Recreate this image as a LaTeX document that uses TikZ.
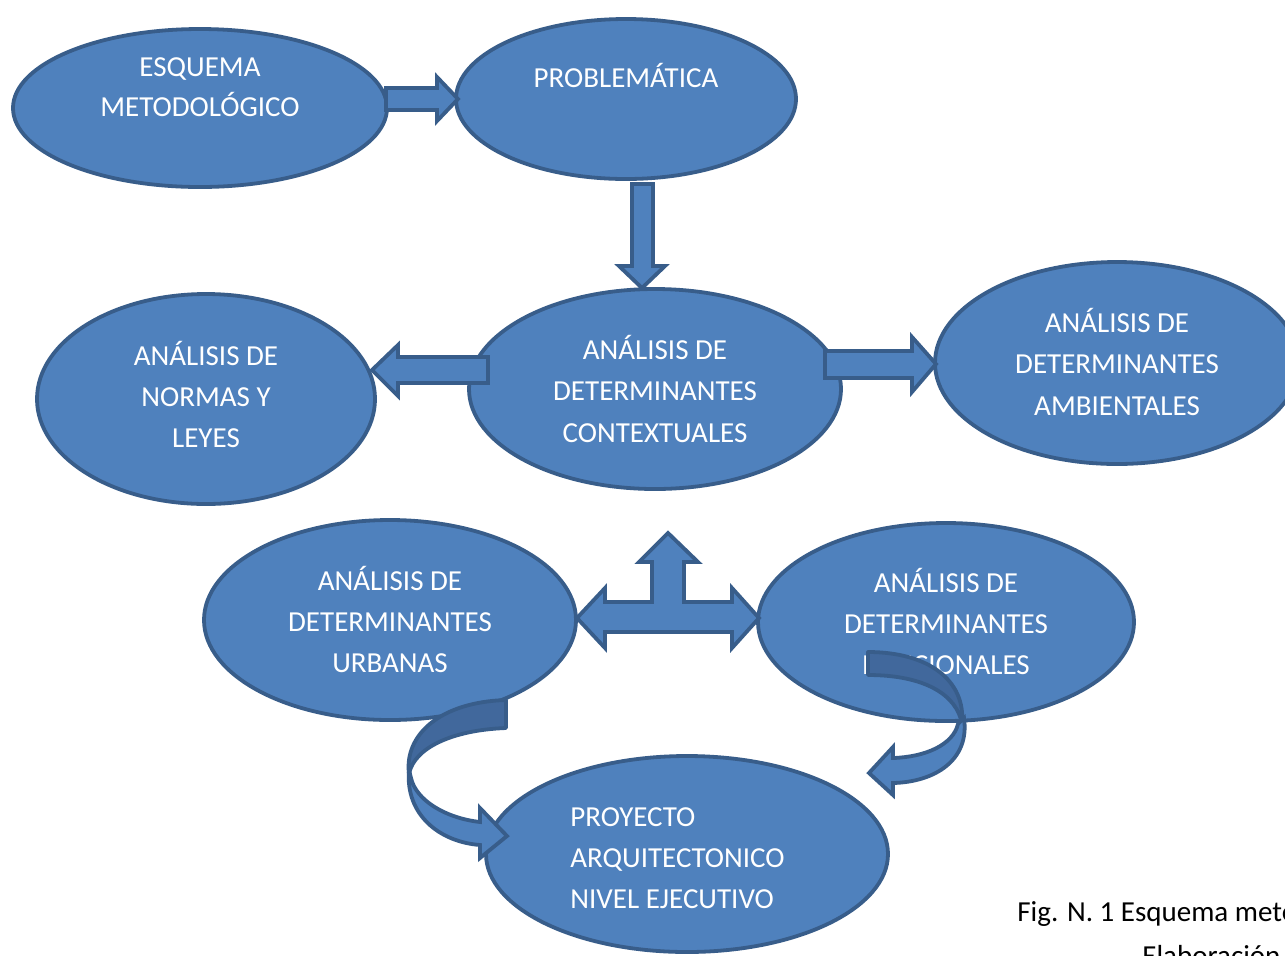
\documentclass[tikz,border=0pt]{standalone}
\usepackage{fontspec}
\setmainfont{Carlito}
\usetikzlibrary{shapes.geometric}
\definecolor{fillb}{HTML}{4F81BD}
\definecolor{lineb}{HTML}{385D8A}
\definecolor{darkb}{HTML}{41689C}
\begin{document}
\begin{tikzpicture}[x=0.5pt,y=-0.5pt,
 ell/.style={ellipse, draw=lineb, fill=fillb, line width=1.9pt, inner sep=0pt},
 blk/.style={draw=lineb, fill=fillb, line width=1.9pt, line join=miter},
 blkd/.style={draw=lineb, fill=darkb, line width=1.9pt, line join=round},
 txt/.style={text=white, font=\fontsize{14.5}{17}\selectfont, anchor=base, inner sep=0pt},
 txtl/.style={txt, anchor=base west},
 capt/.style={text=black, font=\fontsize{14.5}{17}\selectfont, anchor=base west, inner sep=0pt}]
\useasboundingbox[fill=white] (0,0) rectangle (1285,955);

% ellipses
\node[ell, minimum width=187pt, minimum height=79pt] (e1) at (200,108) {};
\node[ell, minimum width=170pt, minimum height=80pt] (e2) at (626,99) {};
\node[ell, minimum width=169pt, minimum height=105pt] (e3) at (206,399) {};
\node[ell, minimum width=186pt, minimum height=100pt] (e4) at (655,389) {};
\node[ell, minimum width=182pt, minimum height=101pt] (e5) at (1117,363) {};
\node[ell, minimum width=186pt, minimum height=100pt] (e6) at (390,620) {};
\node[ell, minimum width=188pt, minimum height=99pt] (e7) at (946,622) {};
\node[ell, minimum width=201pt, minimum height=98pt] (e8) at (687,854) {};

% texts
\node[txt] (t1a) at (200,76) {ESQUEMA};
\node[txt] (t1b) at (200,116) {METODOLÓGICO};
\node[txt] (t2a) at (626,87) {PROBLEMÁTICA};
\node[txt] (t3a) at (206,365) {ANÁLISIS DE};
\node[txt] (t3b) at (206,406) {NORMAS Y};
\node[txt] (t3c) at (206,447) {LEYES};
\node[txt] (t4a) at (655,359) {ANÁLISIS DE};
\node[txt] (t4b) at (655,400) {DETERMINANTES};
\node[txt] (t4c) at (655,442) {CONTEXTUALES};
\node[txt] (t5a) at (1117,332) {ANÁLISIS DE};
\node[txt] (t5b) at (1117,373) {DETERMINANTES};
\node[txt] (t5c) at (1117,415) {AMBIENTALES};
\node[txt] (t6a) at (390,590) {ANÁLISIS DE};
\node[txt] (t6b) at (390,631) {DETERMINANTES};
\node[txt] (t6c) at (390,672) {URBANAS};
\node[txt] (t7a) at (946,592) {ANÁLISIS DE};
\node[txt] (t7b) at (946,633) {DETERMINANTES};
\node[txt] (t7c) at (946,674) {FUNCIONALES};
\node[txtl] (t8a) at (570,826) {PROYECTO};
\node[txtl] (t8b) at (570,867) {ARQUITECTONICO};
\node[txtl] (t8c) at (570,908) {NIVEL EJECUTIVO};

% straight block arrows
\draw[blk] (386,88) -- (437,88) -- (437,77) -- (458,99) -- (437,121) -- (437,110) -- (386,110) -- cycle;
\draw[blk] (632,184) -- (653,184) -- (653,266) -- (665,266) -- (642,288) -- (619,266) -- (632,266) -- cycle;
\draw[blk] (488,357) -- (398,357) -- (398,345) -- (372,370) -- (398,396) -- (398,383) -- (488,383) -- cycle;
\draw[blk] (825,351) -- (912,351) -- (912,337) -- (936,364) -- (912,392) -- (912,378) -- (825,378) -- cycle;
\draw[blk] (605,602) -- (652,602) -- (652,562) -- (639,562) -- (668,533) -- (698,562) -- (684,562) -- (684,602)
  -- (732,602) -- (732,588) -- (759,618) -- (732,648) -- (732,632) -- (605,632) -- (605,648) -- (577,618) -- (605,588) -- cycle;

% curved arrow, left
\draw[blkd] (506,700) -- (506,728) .. controls (452,730) and (414,748) .. (409,774)
  .. controls (404,735) and (440,702) .. (506,700) -- cycle;
\draw[blk] (409,770) .. controls (405,815) and (440,842) .. (480,845) -- (480,858) -- (507,836)
  -- (480,808) -- (480,822) .. controls (445,818) and (416,800) .. (411,778) -- cycle;

% curved arrow, right
\draw[blkd] (868,652) -- (868,675) .. controls (925,675) and (957,695) .. (962,724)
  .. controls (966,680) and (928,652) .. (868,652) -- cycle;
\draw[blk] (964,718) .. controls (970,760) and (935,782) .. (893,783) -- (893,795) -- (869,773)
  -- (893,747) -- (893,758) .. controls (925,757) and (953,745) .. (958,724) -- cycle;

% caption
\node[capt] (c1) at (1017,921) {Fig. N. 1 Esquema metodológico};
\node[capt] (c2) at (1142,965) {Elaboración propia};
\end{tikzpicture}
\end{document}
